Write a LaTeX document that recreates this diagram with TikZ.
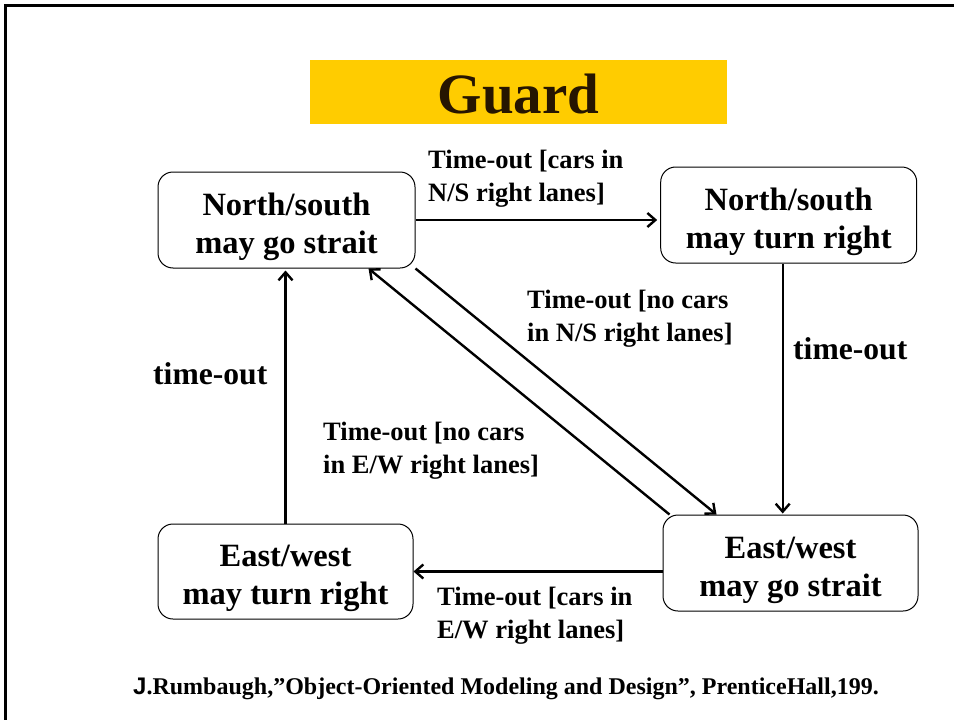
\documentclass[tikz,border=0pt]{standalone}
\usepackage{fontspec}
\setmainfont{Liberation Serif}
\newfontfamily\jfont{Liberation Sans}
\usetikzlibrary{arrows.meta}
\definecolor{banner}{HTML}{FFCC00}
\definecolor{titleink}{HTML}{261500}
% two centred lines of state text, set a little below the box centre
\newcommand{\statetext}[2]{\raisebox{-6.5pt}[\height][\depth]{\begin{tabular}{@{}c@{}}#1\\#2\end{tabular}}}
\tikzset{
  state/.style={draw=black, line width=1pt, rounded corners=15pt, align=center,
    inner sep=0pt, font=\fontsize{32.5}{38}\selectfont\bfseries},
  trans/.style={line width=2.4pt, -{Straight Barb[length=8pt,width=14pt]}},
  guardlabel/.style={align=left, inner sep=0pt, font=\fontsize{26.5}{33}\selectfont\bfseries},
  biglabel/.style={inner sep=0pt, font=\fontsize{31.6}{38}\selectfont\bfseries},
}
\begin{document}
\begin{tikzpicture}[x=1pt, y=-1pt]
\useasboundingbox (0,0) rectangle (954,720);
% slide frame
\draw[line width=3pt] (5.5,720) -- (5.5,5.5) -- (954,5.5);
% title banner
\fill[banner] (310,60) rectangle (727,124);
\node[anchor=base, inner sep=0pt, text=titleink, font=\fontsize{57}{60}\selectfont\bfseries]
  (title) at (518.5,113) {Guard};
% states
\node[state, minimum width=257pt, minimum height=96pt] (A) at (286.5,220) {\statetext{North/south}{may go strait}};
\node[state, minimum width=256pt, minimum height=96pt] (B) at (788.7,215) {\statetext{North/south}{may turn right}};
\node[state, minimum width=255pt, minimum height=96pt] (C) at (790.5,563) {\statetext{East/west}{may go strait}};
\node[state, minimum width=255pt, minimum height=95pt] (D) at (285.5,571.5) {\statetext{East/west}{may turn right}};
% transitions
\draw[trans, shorten >=3pt] (A.east) -- (A.east -| B.west);
\draw[trans, shorten >=1pt] ([xshift=-6pt]B.south) -- ([xshift=-6pt]B.south |- C.north);
\draw[trans] (D.east -| C.west) -- (D.east);
\draw[trans, shorten >=2pt] (D.north) -- (D.north |- A.south);
\draw[trans] (A.south east) -- ([xshift=54pt]C.north west);
\draw[trans] ([xshift=7pt]C.north west) -- ([xshift=-47pt]A.south east);
% transition labels
\node[guardlabel, anchor=west] (l1) at (428,178.5) {Time-out [cars in\\N/S right lanes]};
\node[guardlabel, anchor=west] (l2) at (527,319) {Time-out [no cars\\in N/S right lanes]};
\node[guardlabel, anchor=west] (l3) at (323,451) {Time-out [no cars\\in E/W right lanes]};
\node[guardlabel, anchor=west] (l4) at (437,616) {Time-out [cars in\\E/W right lanes]};
\node[biglabel, anchor=base west] (t1) at (793,359) {time-out};
\node[biglabel, anchor=base west] (t2) at (153,384) {time-out};
% reference
\node[anchor=base, inner sep=0pt, font=\fontsize{24}{28}\selectfont\bfseries] (ref) at (506,694)
  {{\jfont J}.Rumbaugh,”Object-Oriented Modeling and Design”, PrenticeHall,199.};
\end{tikzpicture}
\end{document}
